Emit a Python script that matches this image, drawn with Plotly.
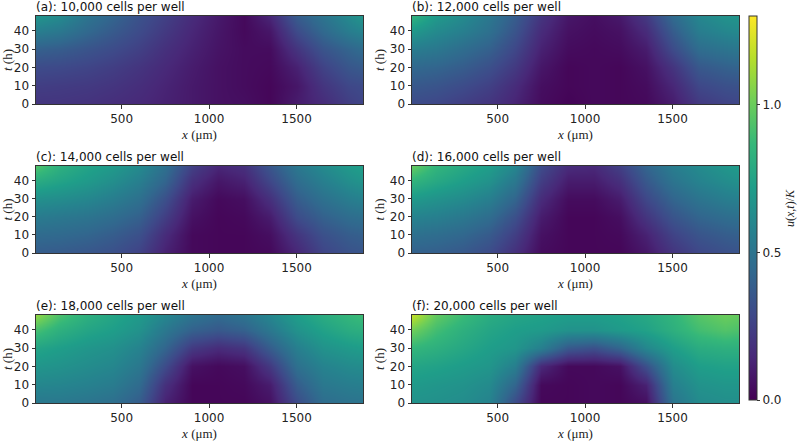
import plotly.graph_objects as go

# ---- data ----
x_um = [0, 150, 300, 450, 600, 750, 900, 1050, 1200, 1350, 1500, 1650, 1800, 1900]
t_h = [0, 10, 20, 30, 40, 48]

titles = ["(a): 10,000 cells per well", "(b): 12,000 cells per well",
          "(c): 14,000 cells per well", "(d): 16,000 cells per well",
          "(e): 18,000 cells per well", "(f): 20,000 cells per well"]

# rows: t = 0, 10, 20, 30, 40, 48 ; columns follow x_um
u_a = [[0.20, 0.20, 0.19, 0.17, 0.15, 0.12, 0.09, 0.06, 0.05, 0.02, 0.10, 0.16, 0.24, 0.28],
       [0.24, 0.23, 0.22, 0.20, 0.17, 0.13, 0.09, 0.06, 0.04, 0.02, 0.08, 0.20, 0.28, 0.30],
       [0.30, 0.29, 0.27, 0.24, 0.20, 0.15, 0.10, 0.06, 0.04, 0.03, 0.12, 0.26, 0.35, 0.38],
       [0.40, 0.38, 0.34, 0.30, 0.25, 0.18, 0.12, 0.07, 0.04, 0.04, 0.20, 0.34, 0.42, 0.47],
       [0.56, 0.52, 0.44, 0.37, 0.30, 0.22, 0.14, 0.08, 0.03, 0.08, 0.30, 0.44, 0.55, 0.60],
       [0.68, 0.62, 0.50, 0.42, 0.33, 0.25, 0.16, 0.09, 0.03, 0.14, 0.38, 0.50, 0.62, 0.70]]
u_b = [[0.30, 0.28, 0.24, 0.20, 0.13, 0.04, 0.01, 0.03, 0.02, 0.03, 0.10, 0.22, 0.26, 0.28],
       [0.36, 0.34, 0.30, 0.25, 0.16, 0.05, 0.02, 0.03, 0.02, 0.04, 0.14, 0.28, 0.32, 0.33],
       [0.44, 0.42, 0.38, 0.32, 0.22, 0.08, 0.02, 0.03, 0.02, 0.06, 0.20, 0.36, 0.40, 0.42],
       [0.55, 0.52, 0.46, 0.40, 0.28, 0.12, 0.04, 0.03, 0.04, 0.10, 0.30, 0.46, 0.50, 0.52],
       [0.70, 0.62, 0.56, 0.48, 0.34, 0.16, 0.06, 0.04, 0.06, 0.16, 0.38, 0.55, 0.60, 0.62],
       [0.85, 0.70, 0.62, 0.52, 0.38, 0.20, 0.08, 0.05, 0.09, 0.22, 0.45, 0.60, 0.66, 0.68]]
u_c = [[0.38, 0.37, 0.35, 0.32, 0.26, 0.12, 0.03, 0.02, 0.02, 0.03, 0.14, 0.27, 0.33, 0.35],
       [0.45, 0.44, 0.42, 0.38, 0.32, 0.16, 0.03, 0.02, 0.02, 0.05, 0.20, 0.32, 0.38, 0.40],
       [0.54, 0.52, 0.50, 0.46, 0.40, 0.24, 0.06, 0.02, 0.03, 0.10, 0.30, 0.40, 0.46, 0.48],
       [0.65, 0.63, 0.60, 0.55, 0.48, 0.32, 0.10, 0.03, 0.05, 0.18, 0.38, 0.48, 0.55, 0.58],
       [0.80, 0.75, 0.70, 0.64, 0.56, 0.42, 0.18, 0.08, 0.12, 0.28, 0.46, 0.56, 0.64, 0.68],
       [0.95, 0.82, 0.75, 0.70, 0.62, 0.48, 0.25, 0.14, 0.18, 0.35, 0.52, 0.62, 0.70, 0.74]]
u_d = [[0.40, 0.39, 0.36, 0.30, 0.18, 0.04, 0.02, 0.02, 0.02, 0.08, 0.20, 0.28, 0.32, 0.34],
       [0.48, 0.46, 0.43, 0.37, 0.24, 0.06, 0.02, 0.02, 0.03, 0.12, 0.26, 0.34, 0.38, 0.40],
       [0.58, 0.56, 0.52, 0.46, 0.32, 0.10, 0.02, 0.02, 0.05, 0.20, 0.34, 0.42, 0.46, 0.48],
       [0.70, 0.66, 0.62, 0.56, 0.42, 0.16, 0.04, 0.04, 0.10, 0.28, 0.42, 0.50, 0.55, 0.57],
       [0.85, 0.78, 0.72, 0.66, 0.52, 0.24, 0.10, 0.10, 0.18, 0.36, 0.50, 0.58, 0.63, 0.66],
       [1.00, 0.85, 0.78, 0.72, 0.60, 0.30, 0.16, 0.15, 0.25, 0.42, 0.55, 0.62, 0.68, 0.72]]
u_e = [[0.52, 0.52, 0.50, 0.47, 0.38, 0.12, 0.02, 0.02, 0.02, 0.06, 0.30, 0.46, 0.49, 0.50],
       [0.60, 0.59, 0.57, 0.54, 0.45, 0.18, 0.02, 0.02, 0.03, 0.10, 0.38, 0.52, 0.55, 0.56],
       [0.68, 0.66, 0.63, 0.60, 0.52, 0.30, 0.06, 0.03, 0.05, 0.22, 0.48, 0.58, 0.62, 0.63],
       [0.76, 0.72, 0.68, 0.65, 0.58, 0.42, 0.22, 0.16, 0.20, 0.38, 0.56, 0.66, 0.70, 0.72],
       [0.92, 0.82, 0.76, 0.72, 0.66, 0.52, 0.40, 0.36, 0.40, 0.52, 0.66, 0.74, 0.80, 0.82],
       [1.10, 0.92, 0.82, 0.76, 0.70, 0.60, 0.50, 0.45, 0.50, 0.60, 0.72, 0.80, 0.86, 0.90]]
u_f = [[0.66, 0.65, 0.63, 0.58, 0.30, 0.02, 0.02, 0.03, 0.02, 0.05, 0.50, 0.62, 0.64, 0.64],
       [0.70, 0.68, 0.66, 0.62, 0.42, 0.03, 0.02, 0.03, 0.02, 0.12, 0.56, 0.66, 0.68, 0.68],
       [0.76, 0.74, 0.71, 0.68, 0.56, 0.15, 0.03, 0.03, 0.06, 0.32, 0.63, 0.72, 0.74, 0.74],
       [0.86, 0.82, 0.77, 0.72, 0.68, 0.56, 0.36, 0.32, 0.42, 0.60, 0.72, 0.80, 0.82, 0.82],
       [1.02, 0.90, 0.82, 0.76, 0.72, 0.70, 0.66, 0.66, 0.70, 0.74, 0.82, 0.90, 0.94, 0.92],
       [1.20, 0.98, 0.88, 0.80, 0.76, 0.74, 0.72, 0.72, 0.74, 0.78, 0.85, 0.95, 1.00, 0.98]]
panels = [u_a, u_b, u_c, u_d, u_e, u_f]

x_ticks = [500, 1000, 1500]
t_ticks = [0, 10, 20, 30, 40]
cbar_ticks = [0.0, 0.5, 1.0]
zmin, zmax = 0.0, 1.3

# ---- layout geometry (pixels) ----
W, H = 800, 441
col_px = [(36, 363), (412, 739)]
row_px = [(16, 104), (166, 253), (315, 403)]

fig = go.Figure()
sans = "DejaVu Sans"
serif = "Liberation Serif"
annotations = []
for i, z in enumerate(panels):
    r, c = divmod(i, 2)
    n = i + 1
    xa = "x" if n == 1 else f"x{n}"
    ya = "y" if n == 1 else f"y{n}"
    fig.add_trace(go.Heatmap(
        x=x_um, y=t_h, z=z, zmin=zmin, zmax=zmax, colorscale="Viridis",
        zsmooth="best", xaxis=xa, yaxis=ya, showscale=(i == 0),
        colorbar=dict(x=749 / W, xanchor="left", thickness=8, xpad=0, ypad=0,
                      len=384 / H, lenmode="fraction", y=1 - 400 / H, yanchor="bottom",
                      outlinewidth=1, outlinecolor="#333",
                      tickvals=cbar_ticks, ticktext=["0.0", "0.5", "1.0"],
                      ticks="outside", ticklen=3, tickcolor="#333",
                      tickfont=dict(family=sans, size=12, color="#222")),
        hoverinfo="skip"))
    x0, x1 = col_px[c]
    y0, y1 = row_px[r]
    axis_common = dict(showline=True, linecolor="#333", linewidth=1, mirror=True,
                       ticks="outside", ticklen=3.5, tickcolor="#333", automargin=False,
                       tickfont=dict(family=sans, size=12, color="#222"),
                       showgrid=False, zeroline=False)
    fig.layout[("xaxis" if n == 1 else f"xaxis{n}")] = dict(
        domain=[x0 / W, x1 / W], anchor=ya, range=[10, 1880],
        tickvals=x_ticks,
        title=dict(text="<i>x</i> (μm)", font=dict(family=serif, size=13, color="#222"), standoff=4),
        **axis_common)
    fig.layout[("yaxis" if n == 1 else f"yaxis{n}")] = dict(
        domain=[1 - y1 / H, 1 - y0 / H], anchor=xa, range=[0, 48.2],
        tickvals=t_ticks,
        title=dict(text="<i>t</i> (h)", font=dict(family=serif, size=13, color="#222"), standoff=2),
        **axis_common)
    annotations.append(dict(text=titles[i], x=x0 / W, y=1 - y0 / H, xref="paper", yref="paper",
                            xanchor="left", yanchor="bottom", showarrow=False, xshift=-2,
                            font=dict(family=sans, size=12, color="#111")))

annotations.append(dict(text="<i>u</i>(<i>x</i>,<i>t</i>)/<i>K</i>", x=790 / W, y=1 - 208 / H,
                        xref="paper", yref="paper", xanchor="center", yanchor="middle",
                        textangle=-90, showarrow=False,
                        font=dict(family=serif, size=12, color="#222")))

fig.update_layout(width=W, height=H, margin=dict(l=0, r=0, t=0, b=0, autoexpand=False),
                  paper_bgcolor="white", plot_bgcolor="white",
                  annotations=annotations, showlegend=False)

fig.write_html("out.html", config={"displayModeBar": False},
               post_script="document.body.style.margin='0';")
